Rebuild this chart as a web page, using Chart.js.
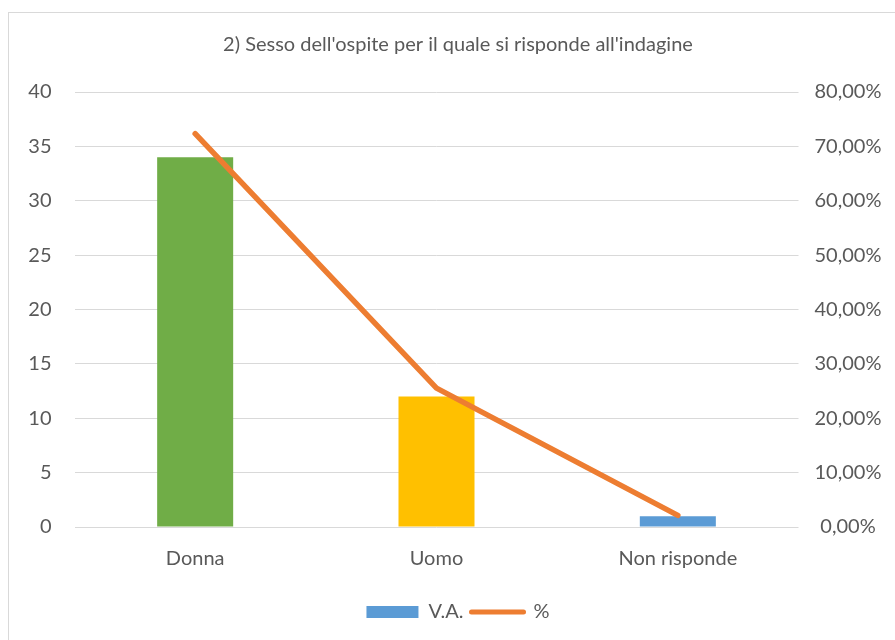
<!DOCTYPE html>
<html>
<head>
<meta charset="utf-8">
<script src="https://cdn.jsdelivr.net/npm/chart.js@4.4.0/dist/chart.umd.min.js"></script>
<style>
  html, body { margin: 0; padding: 0; background: #fff; overflow: hidden; }
  #frame { position: absolute; left: 8px; top: 12px; width: 920px; height: 660px; border: 1px solid #d9d9d9; }
  #wrap { position: absolute; left: 0; top: 0; width: 916px; height: 640px; }
</style>
</head>
<body>
<div id="frame"></div>
<div id="wrap"><canvas id="myChart"></canvas></div>
<script>
// data
var categories = ["Donna", "Uomo", "Non risponde"];
var vaValues = [34, 12, 1];
var pctValues = [72.34, 25.53, 2.13];
var barColors = ["#70AD47", "#FFC000", "#5B9BD5"];

var textColor = "#595959";
var gridColor = "#d9d9d9";
var fontName = "Lato, 'Open Sans', sans-serif";

function pctLabel(v) {
  return v.toFixed(2).replace(".", ",") + "%";
}

var ctx = document.getElementById("myChart").getContext("2d");

new Chart(ctx, {
  type: "bar",
  data: {
    labels: categories,
    datasets: [
      {
        type: "line",
        label: "%",
        data: pctValues,
        yAxisID: "y1",
        borderColor: "#ED7D31",
        backgroundColor: "#ED7D31",
        borderWidth: 5.5,
        borderCapStyle: "round",
        borderJoinStyle: "round",
        pointRadius: 0,
        tension: 0,
        order: 1
      },
      {
        label: "V.A.",
        data: vaValues,
        yAxisID: "y",
        backgroundColor: barColors,
        barPercentage: 0.315,
        categoryPercentage: 1,
        order: 2
      }
    ]
  },
  options: {
    responsive: true,
    maintainAspectRatio: false,
    animation: false,
    layout: { padding: { top: 0, bottom: 8, left: 0, right: 0 } },
    plugins: {
      title: {
        display: true,
        text: "2) Sesso dell'ospite per il quale si risponde all'indagine",
        color: textColor,
        font: { family: fontName, size: 20, weight: "normal" },
        padding: { top: 33, bottom: 35 }
      },
      tooltip: { enabled: false },
      legend: {
        position: "bottom",
        labels: {
          color: textColor,
          font: { family: fontName, size: 20 },
          usePointStyle: true,
          pointStyleWidth: 52,
          boxHeight: 12,
          padding: 8,
          generateLabels: function (chart) {
            return [
              {
                text: "V.A.",
                fillStyle: "#5B9BD5",
                strokeStyle: "#5B9BD5",
                lineWidth: 0,
                pointStyle: "rect",
                fontColor: textColor,
                datasetIndex: 1
              },
              {
                text: "%",
                fillStyle: "#ED7D31",
                strokeStyle: "#ED7D31",
                lineWidth: 5,
                lineCap: "round",
                pointStyle: "line",
                fontColor: textColor,
                datasetIndex: 0
              }
            ];
          }
        }
      }
    },
    scales: {
      x: {
        grid: { display: false, drawTicks: false },
        border: { display: false },
        ticks: { color: textColor, font: { family: fontName, size: 20 }, padding: 20 },
        afterFit: function (scale) { scale.height = 67; }
      },
      y: {
        position: "left",
        min: 0,
        max: 40,
        ticks: { stepSize: 5, color: textColor, font: { family: fontName, size: 20 }, padding: 23 },
        grid: { color: gridColor, lineWidth: 1, drawTicks: false },
        border: { display: false },
        afterFit: function (scale) { scale.width = 74.5; }
      },
      y1: {
        position: "right",
        min: 0,
        max: 80,
        ticks: {
          stepSize: 10,
          color: textColor,
          font: { family: fontName, size: 20 },
          padding: 16,
          crossAlign: "center",
          callback: function (v) { return pctLabel(v); }
        },
        grid: { drawOnChartArea: false, drawTicks: false },
        border: { display: false },
        afterFit: function (scale) { scale.width = 117.5; }
      }
    }
  }
});
</script>
</body>
</html>
